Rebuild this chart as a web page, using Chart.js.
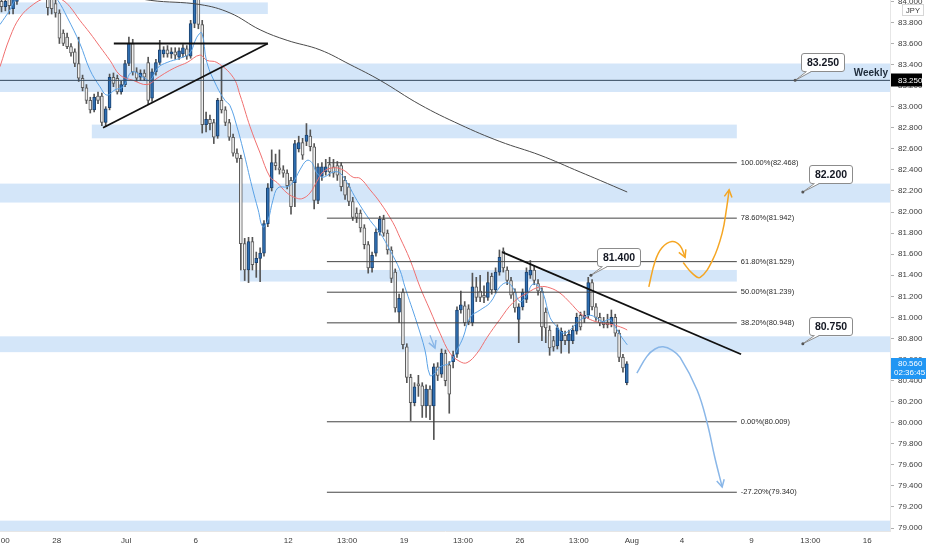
<!DOCTYPE html>
<html><head><meta charset="utf-8">
<script src="https://cdn.jsdelivr.net/npm/chart.js@4.4.1/dist/chart.umd.min.js"></script>
<style>html,body{margin:0;padding:0;background:#fff}#wrap{width:932px;height:550px;position:relative}</style>
</head><body><div id="wrap"><canvas id="c" width="932" height="550"></canvas></div>
<script>
// ---- 4h USD/JPY-style candles (bar index = x) ----
const opens = [84.00,83.95,84.02,83.93,84.00,84.08,84.14,84.21,84.16,84.28,
84.24,84.18,84.06,84.03,83.98,83.89,83.70,83.66,83.57,83.52,
83.41,83.27,83.18,83.06,82.97,83.10,83.10,82.85,82.99,83.28,
83.27,83.14,83.21,83.41,83.60,83.33,83.28,83.32,83.42,83.08,
83.33,83.42,83.50,83.54,83.50,83.52,83.47,83.50,83.55,83.48,
83.79,84.08,83.78,82.83,82.88,82.85,82.72,83.06,82.97,82.85,
82.71,82.56,82.51,81.70,81.45,81.72,81.52,81.56,81.61,81.89,
82.23,82.47,82.42,82.40,82.37,82.30,82.28,82.60,82.66,82.67,
82.72,82.62,82.11,82.34,82.38,82.45,82.43,82.44,82.44,82.30,
82.24,82.10,81.99,81.99,81.85,81.69,81.47,81.61,81.81,81.93,
81.80,81.64,81.43,81.05,81.24,80.72,80.43,80.19,80.37,80.35,
80.16,80.32,80.16,80.53,80.46,80.66,80.55,80.58,80.65,81.07,
81.11,81.08,80.95,81.29,81.25,81.21,81.19,81.39,81.26,81.43,
81.63,81.45,81.35,81.24,80.98,81.10,81.17,81.40,81.45,81.32,
81.25,81.05,80.88,80.78,80.73,80.78,80.83,80.78,80.78,80.87,
81.02,80.99,81.02,81.33,81.10,81.00,80.96,80.95,80.94,81.00,
80.85,80.62,80.38];
const highs = [84.06,84.04,84.08,84.05,84.12,84.17,84.25,84.26,84.32,84.33,
84.28,84.22,84.10,84.06,84.03,83.92,83.73,83.70,83.60,83.55,
83.66,83.30,83.21,83.09,83.12,83.14,83.13,83.00,83.31,83.32,
83.30,83.24,83.44,83.66,83.64,83.37,83.35,83.35,83.47,83.36,
83.45,83.63,83.57,83.58,83.56,83.56,83.56,83.59,83.58,83.82,
84.15,84.12,83.82,82.95,82.92,82.88,83.08,83.37,83.00,82.88,
82.74,82.60,82.54,81.75,81.76,81.76,81.62,81.66,81.92,82.27,
82.59,82.55,82.59,82.44,82.40,82.33,82.68,82.72,82.70,82.84,
82.78,82.65,82.46,82.47,82.50,82.52,82.50,82.48,82.47,82.34,
82.27,82.14,82.04,82.02,81.88,81.72,81.62,81.84,81.96,81.97,
81.83,81.67,81.46,81.22,81.27,80.75,80.46,80.38,80.45,80.38,
80.36,80.35,80.56,80.57,80.70,80.69,80.58,80.68,81.10,81.25,
81.15,81.12,81.42,81.38,81.40,81.30,81.43,81.42,81.47,81.64,
81.66,81.48,81.38,81.27,81.13,81.27,81.47,81.54,81.49,81.36,
81.28,81.09,80.92,80.82,80.93,80.90,80.87,80.88,80.92,81.04,
81.05,81.06,81.38,81.36,81.13,81.04,81.00,81.03,81.07,81.03,
80.88,80.65,80.58];
const lows = [83.90,83.91,83.88,83.88,83.97,84.03,84.10,84.12,84.13,84.20,
84.14,84.05,83.87,83.88,83.85,83.60,83.58,83.55,83.48,83.38,
83.24,83.15,83.03,82.94,82.95,83.03,82.82,82.81,82.97,83.19,
83.12,83.12,83.19,83.39,83.30,83.24,83.25,83.25,83.02,83.05,
83.30,83.40,83.47,83.47,83.46,83.45,83.45,83.47,83.45,83.46,
83.75,83.74,82.75,82.76,82.78,82.65,82.70,82.94,82.82,82.68,
82.53,82.47,81.45,81.35,81.33,81.45,81.38,81.34,81.58,81.86,
82.20,82.40,82.36,82.33,82.22,81.98,82.05,82.57,82.50,82.63,
82.58,82.03,82.08,82.30,82.35,82.34,82.33,82.30,82.20,82.12,
82.06,81.92,81.90,81.81,81.65,81.42,81.43,81.58,81.78,81.77,
81.60,81.33,81.05,80.95,80.70,80.38,80.02,80.16,80.25,80.05,
80.05,80.03,79.84,80.40,80.43,80.35,80.09,80.52,80.62,81.04,
80.92,80.93,80.92,81.15,81.15,81.14,81.16,81.22,81.23,81.40,
81.43,81.31,81.18,81.05,80.76,81.07,81.14,81.37,81.31,81.21,
80.78,80.76,80.64,80.68,80.70,80.66,80.74,80.66,80.75,80.84,
80.88,80.95,80.99,81.07,80.97,80.92,80.90,80.90,80.91,80.82,
80.58,80.48,80.36];
const closes = [83.95,84.00,83.96,84.02,84.08,84.14,84.21,84.16,84.28,84.24,
84.18,84.06,83.94,83.93,83.89,83.65,83.60,83.57,83.51,83.41,
83.27,83.18,83.06,82.97,83.09,83.06,82.85,82.98,83.28,83.22,
83.14,83.21,83.41,83.60,83.33,83.27,83.32,83.28,83.06,83.33,
83.42,83.54,83.54,83.50,83.52,83.49,83.53,83.56,83.48,83.79,
84.08,83.78,82.83,82.88,82.84,82.71,83.06,82.97,82.85,82.71,
82.56,82.51,81.70,81.45,81.72,81.50,81.56,81.61,81.89,82.23,
82.47,82.44,82.40,82.37,82.25,82.05,82.65,82.66,82.54,82.73,
82.62,82.11,82.43,82.43,82.43,82.38,82.37,82.35,82.24,82.16,
82.10,81.95,81.95,81.85,81.69,81.47,81.59,81.81,81.93,81.80,
81.64,81.37,81.09,81.18,80.74,80.43,80.19,80.34,80.35,80.16,
80.32,80.16,80.53,80.45,80.66,80.40,80.27,80.64,81.07,81.12,
80.95,80.96,81.29,81.19,81.19,81.19,81.33,81.26,81.43,81.57,
81.47,81.35,81.21,81.09,81.10,81.24,81.43,81.45,81.35,81.25,
80.91,80.90,80.71,80.72,80.90,80.87,80.78,80.84,80.88,81.00,
80.91,81.02,81.33,81.10,81.00,80.95,80.93,80.93,81.00,80.85,
80.62,80.52,80.56];

// ---- moving averages (x = bar index, y = price) ----
const fastMA = [[-0.4,83.78],[2.2,83.92],[3.5,84.01],[7.4,84.15],[11.3,84.16],[14.6,84.01],[17.0,83.85],[20.3,83.60],[22.9,83.35],[25.5,83.19],[27.3,83.11],[29.4,83.16],[31.5,83.19],[33.8,83.33],[36.7,83.28],[38.5,83.25],[40.5,83.37],[42.9,83.42],[46.2,83.46],[48.8,83.51],[50.6,83.66],[51.9,83.70],[53.2,83.42],[55.8,83.19],[57.9,83.06],[59.2,83.01],[61.0,82.81],[62.6,82.59],[64.9,82.24],[66.5,82.02],[67.7,81.86],[69.0,81.92],[70.3,82.11],[71.6,82.23],[74.0,82.24],[75.5,82.28],[77.3,82.40],[79.1,82.49],[80.4,82.47],[81.7,82.37],[83.3,82.33],[85.9,82.38],[87.7,82.37],[89.8,82.26],[92.1,82.11],[95.5,81.92],[98.1,81.80],[100.6,81.64],[103.2,81.45],[104.5,81.29],[107.6,80.95],[109.7,80.69],[111.0,80.45],[112.3,80.47],[113.6,80.53],[116.2,80.57],[118.0,80.69],[119.6,80.81],[121.4,81.00],[124.0,81.07],[126.6,81.14],[129.1,81.29],[131.0,81.33],[132.5,81.28],[134.3,81.15],[136.1,81.21],[137.4,81.31],[138.7,81.31],[140.3,81.23],[142.1,81.00],[143.9,80.91],[145.5,80.85],[147.3,80.88],[149.1,80.95],[150.6,80.99],[152.5,81.02],[154.3,80.99],[155.8,80.96],[157.6,80.98],[159.5,80.88],[160.7,80.81],[162.1,80.74]];
const slowMA = [[-0.4,83.38],[2.2,83.66],[4.8,83.85],[8.2,83.97],[11.3,84.03],[13.9,84.04],[15.9,84.01],[17.7,83.95],[20.3,83.82],[22.9,83.70],[25.5,83.57],[28.1,83.44],[30.7,83.30],[34.1,83.25],[37.7,83.21],[40.3,83.27],[42.9,83.33],[45.5,83.38],[48.1,83.42],[51.4,83.49],[53.2,83.44],[55.8,83.42],[60.0,83.28],[61.8,83.11],[64.4,82.81],[67.0,82.56],[69.6,82.33],[71.4,82.28],[74.0,82.18],[76.6,82.13],[78.1,82.13],[79.9,82.18],[81.7,82.29],[83.3,82.38],[85.9,82.42],[88.5,82.40],[91.1,82.33],[92.9,82.32],[95.5,82.21],[98.1,82.09],[101.4,81.90],[103.2,81.76],[105.8,81.55],[108.4,81.29],[111.0,81.07],[113.6,80.85],[116.2,80.66],[118.8,80.58],[120.6,80.57],[123.2,80.66],[125.8,80.81],[129.1,80.98],[132.5,81.14],[136.1,81.23],[139.5,81.29],[142.1,81.28],[144.7,81.23],[147.3,81.14],[149.9,81.04],[152.5,80.98],[155.1,80.95],[158.4,80.93],[161.0,80.90],[162.1,80.88]];
const longMA = [[30.7,84.07],[38.5,84.01],[51.4,83.97],[59.2,83.89],[67.0,83.73],[74.0,83.63],[82.5,83.54],[90.3,83.40],[98.1,83.25],[108.4,83.02],[118.8,82.83],[129.1,82.67],[139.5,82.54],[149.9,82.38],[155.1,82.30],[162.1,82.19]];

// ---- axis labels ----
const yTicks = [79.0,79.2,79.4,79.6,79.8,80.0,80.2,80.4,80.6,80.8,81.0,81.2,81.4,81.6,81.8,82.0,82.2,82.4,82.6,82.8,83.0,83.2,83.4,83.6,83.8,84.0];
const xTickPos = [-0.46,14.3,32.3,50.3,74.3,89.54,104.3,119.54,134.3,149.54,163.3,176.3,194.3,209.54,224.3];
const xTickLabels = ['13:00','28','Jul','6','12','13:00','19','13:00','26','13:00','Aug','4','9','13:00','16'];

// ---- drawings ----
const zoneFrom = [-1, -1, 23.4, -1, 61.8, -1, -1];
const zoneTo   = [69.0, 232, 190.5, 232, 190.5, 232, 232];
const zoneLow  = [83.88, 83.14, 82.70, 82.09, 81.34, 80.67, 78.97];
const zoneHigh = [83.99, 83.41, 82.83, 82.27, 81.45, 80.82, 79.07];
const fibPct    = [100, 78.6, 61.8, 50, 38.2, 0, -27.2];
const fibPrices = [82.468, 81.942, 81.529, 81.239, 80.948, 80.009, 79.340];
const fibStart = 84.3, fibEnd = 190.5;
const weeklyLevel = 83.25;
const triangleRise = [[26.3,82.80],[69.0,83.60]];
const triangleTop  = [[29.1,83.60],[69.0,83.60]];
const trendLine    = [[129.7,81.62],[191.6,80.65]];
const orangeUp1 = [[167.7,81.29],[169.3,81.53],[171.1,81.66],[173.7,81.72],[175.8,81.68],[177.1,81.57]];
const orangeUp2 = [[176.6,81.52],[178.9,81.42],[181.0,81.38],[184.3,81.55],[186.7,81.80],[187.9,82.05],[188.5,82.21]];
const blueDown  = [[164.6,80.47],[167.2,80.63],[169.3,80.70],[171.4,80.72],[173.7,80.69],[175.8,80.62],[180.2,80.31],[182.8,80.00],[184.8,79.67],[186.7,79.39]];
const blueSmall = [[111.0,80.83],[112.3,80.71]];
const calloutX = [205.6, 207.6, 207.6, 152.7];
const calloutY = [83.25, 82.19, 80.75, 81.40];
const calloutText = ['83.250','82.200','80.750','81.400'];
const lastPrice = 80.560, countdown = '02:36:45', currency = 'JPY', weeklyText = 'Weekly';

const FONT = "'Liberation Sans', Arial, sans-serif";
Chart.defaults.font.family = FONT;

const pts = a => a.map(p => ({x: p[0], y: p[1]}));
const up = opens.map((o, i) => closes[i] >= o);
const lineDs = (data, color, width, order, tension) => ({type:'line', data, borderColor: color, borderWidth: width, pointRadius: 0, fill: false, tension: tension || 0, order});

const datasets = [
  {type:'bar', data: lows.map((l, i) => ({x: i, y: [l, highs[i]]})), backgroundColor:'#555555', barThickness:1, grouped:false, order:30, borderWidth:0},
  {type:'bar', data: opens.map((o, i) => ({x: i, y: [o, closes[i]]})), backgroundColor: up.map(u => u ? '#2f6fb3' : '#eeeeee'), borderColor: up.map(u => u ? '#1b426f' : '#5c5c5c'), borderWidth:1, borderSkipped:false, barThickness:3, minBarLength:1, grouped:false, order:29},
  lineDs(pts(longMA), '#4a4a4a', 1, 12, 0.4),
  lineDs(pts(slowMA), '#f07070', 1, 11, 0.4),
  lineDs(pts(fastMA), '#5aa2e6', 1, 10, 0.4),
  lineDs([{x:-1,y:weeklyLevel},{x:232,y:weeklyLevel}], '#34495e', 1, 6),
  ...fibPrices.map(p => lineDs([{x:fibStart,y:p},{x:fibEnd,y:p}], '#444', 1, 6)),
  lineDs(pts(triangleRise), '#111', 1.8, 5),
  lineDs(pts(triangleTop), '#111', 1.8, 5),
  lineDs(pts(trendLine), '#111', 1.8, 5),
];
const arrowStart = datasets.length;
datasets.push(lineDs(pts(orangeUp1), '#f5a623', 1.5, 4, 0.4));
datasets.push(lineDs(pts(orangeUp2), '#f5a623', 1.5, 4, 0.4));
datasets.push(lineDs(pts(blueDown), '#8ab7e8', 1.5, 4, 0.4));
datasets.push(lineDs(pts(blueSmall), '#8ab7e8', 1.2, 4, 0));

function arrowHead(ctx, meta, color){
  const d = meta.data, p2 = d[d.length-1], p1 = d[d.length-2];
  const a = Math.atan2(p2.y - p1.y, p2.x - p1.x), L = 8;
  ctx.save(); ctx.strokeStyle = color; ctx.lineWidth = 1.5; ctx.beginPath();
  ctx.moveTo(p2.x - L*Math.cos(a-0.5), p2.y - L*Math.sin(a-0.5));
  ctx.lineTo(p2.x, p2.y);
  ctx.lineTo(p2.x - L*Math.cos(a+0.5), p2.y - L*Math.sin(a+0.5));
  ctx.stroke(); ctx.restore();
}
function roundRect(ctx, x, y, w, h, r){
  ctx.beginPath(); ctx.moveTo(x+r,y); ctx.lineTo(x+w-r,y); ctx.quadraticCurveTo(x+w,y,x+w,y+r);
  ctx.lineTo(x+w,y+h-r); ctx.quadraticCurveTo(x+w,y+h,x+w-r,y+h); ctx.lineTo(x+r,y+h);
  ctx.quadraticCurveTo(x,y+h,x,y+h-r); ctx.lineTo(x,y+r); ctx.quadraticCurveTo(x,y,x+r,y); ctx.closePath();
}

const overlay = {
  id: 'overlay',
  beforeDatasetsDraw(chart){
    const {ctx, chartArea: a, scales: {x, y}} = chart;
    ctx.save(); ctx.beginPath(); ctx.rect(a.left, a.top, a.width, a.height); ctx.clip();
    ctx.fillStyle = 'rgba(170,205,243,0.5)';
    zoneFrom.forEach((f, i) => {
      const x0 = x.getPixelForValue(f), x1 = x.getPixelForValue(zoneTo[i]);
      const y0 = y.getPixelForValue(zoneHigh[i]), y1 = y.getPixelForValue(zoneLow[i]);
      ctx.fillRect(x0, y0, x1 - x0, y1 - y0);
    });
    ctx.restore();
  },
  afterDatasetsDraw(chart){
    const {ctx, chartArea: a, scales: {x, y}} = chart;
    ctx.save();
    ctx.font = '7.5px ' + FONT; ctx.fillStyle = '#2a2a2a'; ctx.textAlign = 'left'; ctx.textBaseline = 'middle';
    fibPrices.forEach((p, i) => {
      ctx.fillText(fibPct[i].toFixed(2) + '%(' + p.toFixed(3) + ')', x.getPixelForValue(fibEnd) + 4, y.getPixelForValue(p));
    });
    ctx.font = 'bold 10px ' + FONT; ctx.fillStyle = '#1e2b3a'; ctx.textAlign = 'right'; ctx.textBaseline = 'middle';
    ctx.fillText(weeklyText, a.right - 2, y.getPixelForValue(weeklyLevel) - 7);
    arrowHead(ctx, chart.getDatasetMeta(arrowStart), '#f5a623');
    arrowHead(ctx, chart.getDatasetMeta(arrowStart+1), '#f5a623');
    arrowHead(ctx, chart.getDatasetMeta(arrowStart+2), '#8ab7e8');
    arrowHead(ctx, chart.getDatasetMeta(arrowStart+3), '#8ab7e8');
    calloutText.forEach((t, i) => {
      const tx = x.getPixelForValue(calloutX[i]), ty = y.getPixelForValue(calloutY[i]);
      ctx.font = 'bold 10.5px ' + FONT;
      const w = Math.round(ctx.measureText(t).width + 11), h = 18;
      const bx = Math.round(tx + 6) + 0.5, by = Math.round(ty - 9 - h) + 0.5;
      roundRect(ctx, bx, by, w, h, 2.5);
      ctx.fillStyle = '#fff'; ctx.fill(); ctx.strokeStyle = '#8c8c8c'; ctx.lineWidth = 1; ctx.stroke();
      ctx.beginPath(); ctx.moveTo(bx + 5, by + h - 0.5); ctx.lineTo(tx, ty); ctx.lineTo(bx + 10, by + h - 0.5); ctx.closePath();
      ctx.fillStyle = '#fff'; ctx.fill();
      ctx.beginPath(); ctx.moveTo(bx + 5, by + h); ctx.lineTo(tx, ty); ctx.lineTo(bx + 10, by + h); ctx.stroke();
      ctx.beginPath(); ctx.arc(tx, ty, 1.5, 0, Math.PI*2); ctx.fillStyle = '#555'; ctx.fill();
      ctx.fillStyle = '#131722'; ctx.textAlign = 'center'; ctx.textBaseline = 'middle';
      ctx.fillText(t, bx + w/2, by + h/2 + 0.5);
    });
    ctx.restore();
  },
  afterDraw(chart){
    const {ctx, chartArea: a, scales: {y}} = chart;
    ctx.save();
    ctx.font = '8px ' + FONT; ctx.textAlign = 'left'; ctx.textBaseline = 'middle';
    let py = y.getPixelForValue(weeklyLevel);
    ctx.fillStyle = '#000'; ctx.fillRect(a.right + 1, Math.round(py) - 6.5, 31, 13);
    ctx.fillStyle = '#fff'; ctx.fillText(weeklyLevel.toFixed(3), a.right + 8, py + 0.5);
    py = y.getPixelForValue(lastPrice);
    ctx.fillStyle = '#2196f3'; ctx.fillRect(a.right + 1, Math.round(py) - 6, 35, 21);
    ctx.fillStyle = '#fff'; ctx.fillText(lastPrice.toFixed(3), a.right + 8, py + 0.5);
    ctx.fillText(countdown, a.right + 4, py + 9.5);
    ctx.fillStyle = '#fff'; ctx.fillRect(a.right + 12, 4, 22, 12);
    ctx.strokeStyle = '#d6d6d6'; ctx.strokeRect(a.right + 12.5, 4.5, 21, 11);
    ctx.fillStyle = '#333'; ctx.textAlign = 'center'; ctx.font = '7.5px ' + FONT;
    ctx.fillText(currency, a.right + 23, 10.5);
    ctx.restore();
  }
};

new Chart(document.getElementById('c'), {
  type: 'bar',
  data: { datasets },
  options: {
    responsive: false, animation: false, events: [],
    layout: { padding: 0 },
    plugins: { legend: { display: false }, tooltip: { enabled: false } },
    scales: {
      x: {
        type: 'linear', min: -0.39, max: 230.18, offset: false,
        grid: { display: false, drawTicks: false, tickLength: 0 }, border: { display: true, color: '#e6e6e6' },
        afterBuildTicks: s => { s.ticks = xTickPos.map(v => ({ value: v })); },
        ticks: { autoSkip: false, maxRotation: 0, padding: 5, color: '#3a3a3a', font: { size: 8 },
          callback: (v, i) => xTickLabels[i] },
        afterFit: s => { s.height = 19; s.paddingLeft = 0; s.paddingRight = 0; }
      },
      y: {
        type: 'linear', position: 'right', min: 78.972, max: 84.013,
        grid: { drawOnChartArea: false, drawTicks: true, tickLength: 4, color: '#b0b0b0' },
        border: { display: true, color: '#e6e6e6' },
        afterBuildTicks: s => { s.ticks = yTicks.map(v => ({ value: v })); },
        ticks: { autoSkip: false, padding: 4, color: '#3a3a3a', font: { size: 8 }, crossAlign: 'near',
          callback: v => Number(v).toFixed(3) },
        afterFit: s => { s.width = 42; s.paddingTop = 0; s.paddingBottom = 0; }
      }
    }
  },
  plugins: [overlay]
});
</script></body></html>
